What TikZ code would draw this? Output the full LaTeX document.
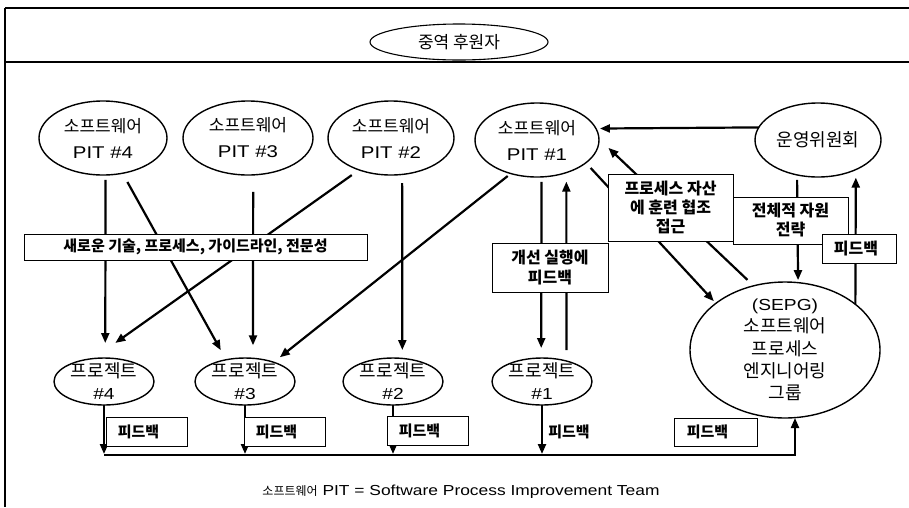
\documentclass[tikz,border=0pt]{standalone}
\usepackage{fontspec}
\setmainfont[FakeStretch=1.2]{Liberation Sans}
\newfontfamily\kr{Noto Sans CJK KR}
\usetikzlibrary{shapes.geometric,arrows.meta}
\newcommand\KS[2]{{\kr\fontsize{#1pt}{#1pt}\selectfont #2}}
\begin{document}
\begin{tikzpicture}[x=1pt,y=-1pt,
  ell/.style={draw, ellipse, line width=1.4pt, inner sep=0pt, outer sep=0pt},
  txt/.style={align=center, inner sep=0pt},
  pitlab/.style={txt, font=\fontsize{17pt}{26pt}\selectfont},
  prjlab/.style={txt, font=\fontsize{16pt}{22pt}\selectfont},
  krlab/.style={txt, font=\kr\fontsize{18pt}{20pt}\selectfont},
  box/.style={draw, fill=white, line width=0.9pt, inner sep=0pt, align=center,
              font=\kr\bfseries\fontsize{16pt}{19pt}\selectfont},
  fbbox/.style={box, font=\kr\bfseries\fontsize{15pt}{18pt}\selectfont},
  arr/.style={line width=2.2pt, -{Triangle[length=10pt,width=8pt]}},
  frameline/.style={line width=1.3pt}]
\useasboundingbox (0,0) rectangle (909,507);
% frame
\draw[frameline] (5,8) -- (909,8);
\draw[frameline] (5,62) -- (909,62);
\draw[line width=1.6pt] (5,8) -- (5,507);
% ellipses
\node[ell, line width=1.1pt, minimum width=178pt, minimum height=36pt,
  label={[txt, font=\kr\fontsize{17pt}{20pt}\selectfont]center:중역 후원자}] (sponsor) at (459,42) {};
\node[ell, minimum width=128pt, minimum height=74pt,
  label={[pitlab]center:{\KS{17}{소프트웨어}\\PIT \#4}}] (pit4) at (103,138) {};
\node[ell, minimum width=130pt, minimum height=74pt,
  label={[pitlab]center:{\KS{17}{소프트웨어}\\PIT \#3}}] (pit3) at (248,138) {};
\node[ell, minimum width=126pt, minimum height=74pt,
  label={[pitlab]center:{\KS{17}{소프트웨어}\\PIT \#2}}] (pit2) at (391,138) {};
\node[ell, minimum width=124pt, minimum height=74pt,
  label={[pitlab]center:{\KS{17}{소프트웨어}\\PIT \#1}}] (pit1) at (537,140) {};
\node[ell, minimum width=126pt, minimum height=74pt,
  label={[krlab]center:운영위원회}] (op) at (818,140) {};
\node[ell, minimum width=100pt, minimum height=47pt,
  label={[prjlab]center:{\KS{18}{프로젝트}\\\#4}}] (prj4) at (104,381.5) {};
\node[ell, minimum width=100pt, minimum height=47pt,
  label={[prjlab]center:{\KS{18}{프로젝트}\\\#3}}] (prj3) at (245,381.5) {};
\node[ell, minimum width=100pt, minimum height=47pt,
  label={[prjlab]center:{\KS{18}{프로젝트}\\\#2}}] (prj2) at (393,381.5) {};
\node[ell, minimum width=100pt, minimum height=47pt,
  label={[prjlab]center:{\KS{18}{프로젝트}\\\#1}}] (prj1) at (542,381.5) {};
\node[ell, minimum width=190pt, minimum height=136pt,
  label={[txt, font=\fontsize{16pt}{22.3pt}\selectfont]center:{(SEPG)\\\KS{18}{소프트웨어}\\\KS{18}{프로세스}\\\KS{18}{엔지니어링}\\\KS{18}{그룹}}}] (sepg) at (785,350) {};
\coordinate (bus) at (0,455);
% connectors
\draw[arr, shorten <=5pt, shorten >=15pt] (pit4.-86.9) -- (prj4.87.6);
\draw[arr, shorten <=10pt, shorten >=11pt] (pit4.-61.5) -- (prj3.131.5);
\draw[arr, shorten <=17pt, shorten >=13pt] (pit3.-82.3) -- (prj3.71);
\draw[arr, shorten <=9pt, shorten >=27pt] (pit2.-135.1) -- (prj4.115.4);
\draw[arr, shorten <=8.6pt, shorten >=8.4pt] (pit2.-73.2) -- (prj2.68.7);
\draw[arr, shorten <=4pt, shorten >=8pt] (pit1.-128.6) -- (prj3.34.1);
\draw[arr, shorten <=5pt, shorten >=10pt] (pit1.-83.8) -- (prj1.92.4);
\draw[arr, shorten <=11pt, shorten >=9pt] (prj1.40.6) -- (pit1.-48.4);
\draw[arr, shorten >=4pt] (op.168.6) -- (pit1.11.6);
\draw[arr, shorten <=8.6pt, shorten >=13pt] (sepg.116.4) -- (pit1.1.9);
\draw[arr, shorten <=7pt, shorten >=3pt] (pit1.-25.4) -- (sepg.146.8);
\draw[arr, shorten <=5pt, shorten >=2.5pt] (op.-121) -- (sepg.79.9);
\draw[arr, shorten >=8pt] (sepg.33.3) -- (op.-38.9);
\draw[arr, shorten >=1pt] (prj4.south) -- (prj4.south |- bus);
\draw[arr, shorten >=1pt] (prj3.south) -- (prj3.south |- bus);
\draw[arr, shorten >=1pt] (prj2.south) -- (prj2.south |- bus);
\draw[arr, shorten >=1pt] (prj1.south) -- (prj1.south |- bus);
\draw[arr] (prj4.south |- bus) -- ([xshift=10pt]sepg.south |- bus) -- ([xshift=10pt]sepg.south);
% boxes
\node[box, minimum width=343pt, minimum height=26pt, font=\kr\bfseries\fontsize{15pt}{18pt}\selectfont] (newtech) at (195.5,247) {새로운 기술, 프로세스, 가이드라인, 전문성};
\node[box, minimum width=116pt, minimum height=49pt, font=\kr\bfseries\fontsize{16pt}{20pt}\selectfont] (apply) at (550,267.5) {개선 실행에\\피드백};
\node[box, minimum width=125pt, minimum height=67pt] (asset) at (670.5,207.5) {프로세스 자산\\에 훈련 협조\\접근};
\node[box, minimum width=115pt, minimum height=47pt] (strat) at (790.5,220.5) {전체적 자원\\전략};
\node[box, minimum width=74pt, minimum height=29pt] (fbop) at (859,248.5) {피드백\hspace{6pt}};
\node[fbbox, minimum width=81pt, minimum height=29pt] (fb4) at (146.5,431.5) {피드백\hspace{16pt}};
\node[fbbox, minimum width=81pt, minimum height=29pt] (fb3) at (284.5,431.5) {피드백\hspace{16pt}};
\node[fbbox, minimum width=81pt, minimum height=29pt] (fb2) at (427.5,430.5) {피드백\hspace{16pt}};
\node[fbbox, minimum width=83pt, minimum height=28pt] (fbsepg) at (715.5,432) {피드백\hspace{16pt}};
\node[font=\kr\bfseries\fontsize{15pt}{18pt}\selectfont, inner sep=0pt] (fb1) at (569,432) {피드백};
% footer
\node[font=\fontsize{14.5pt}{16pt}\selectfont, inner sep=0pt] (foot) at (461,492) {\KS{12}{소프트웨어} PIT = Software Process Improvement Team};
\end{tikzpicture}
\end{document}
